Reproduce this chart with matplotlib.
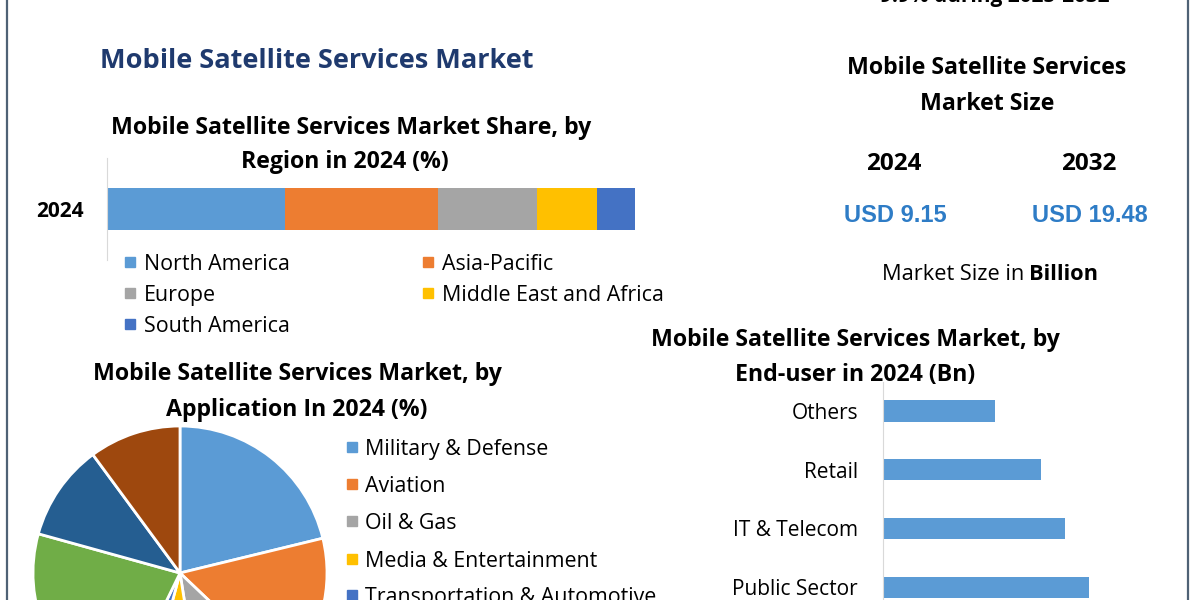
import matplotlib
matplotlib.use("Agg")
import matplotlib.pyplot as plt
from matplotlib.patches import Rectangle
from matplotlib.lines import Line2D

plt.rcParams["font.family"] = ["Open Sans", "DejaVu Sans"]

# ---- data ----
regions = ["North America", "Asia-Pacific", "Europe", "Middle East and Africa", "South America"]
region_share = [33.7, 29.0, 18.7, 11.4, 7.2]
region_colors = ["#5B9BD5", "#ED7D31", "#A5A5A5", "#FFC000", "#4472C4"]

applications = ["Military & Defense", "Aviation", "Oil & Gas", "Media & Entertainment",
                "Transportation & Automotive", "Maritime", "Emergency Services", "Others"]
application_share = [21.2, 15.9, 10.4, 6.7, 3.0, 22.1, 10.6, 10.1]
application_colors = ["#5B9BD5", "#ED7D31", "#A5A5A5", "#FFC000", "#4472C4",
                      "#70AD47", "#255E91", "#9E480E"]

end_users = ["Others", "Retail", "IT & Telecom", "Public Sector"]
end_user_value = [1.12, 1.58, 1.82, 2.06]

size_years = ["2024", "2032"]
size_values = ["USD 9.15", "USD 19.48"]

W, H = 1200, 600
NAVY = "#1F3A6E"
USD_BLUE = "#2E7CC6"
HEAD = 16.7   # section headings
REG = 15.4    # legend text


def fx(x):
    return x / W


def fy(y):
    return 1 - y / H


def text(x, y, s, size=REG, bold=False, ha="center", color="black", family=None):
    # small downward nudge: va="center" counts the descenders
    fig.text(fx(x), fy(y + 2.5), s, fontsize=size, fontweight="bold" if bold else "normal",
             ha=ha, va="center", color=color, family=family)


fig = plt.figure(figsize=(12, 6), dpi=100)
fig.patch.set_facecolor("white")

# frame lines left and right
for x in (7, 1188):
    fig.add_artist(Line2D([fx(x), fx(x)], [0, 1], color="#4F6275", lw=1.6))

# caption cut off at the very top, as in the original
fig.text(fx(995), fy(2), "9.9% during 2025-2032", fontsize=15, fontweight="bold",
         ha="center", va="baseline")

text(317, 58, "Mobile Satellite Services Market", size=19.5, bold=True, color=NAVY)

# ---- stacked bar: region share ----
text(351, 125, "Mobile Satellite Services Market Share, by", size=HEAD, bold=True)
text(345, 160, "Region in 2024 (%)", size=HEAD, bold=True)

ax1 = fig.add_axes([fx(107), fy(260), fx(635) - fx(107), (260 - 158) / H])
left = 0
for name, val, col in zip(regions, region_share, region_colors):
    ax1.barh([0], [val], left=left, height=0.42, color=col)
    left += val
ax1.set_xlim(0, sum(region_share))
ax1.set_ylim(-0.5, 0.5)
ax1.set_yticks([0])
ax1.set_yticklabels(["2024"], fontweight="bold", fontsize=15)
ax1.tick_params(axis="y", length=0, pad=17)
ax1.set_xticks([])
for s in ("top", "right", "bottom"):
    ax1.spines[s].set_visible(False)
ax1.spines["left"].set_color("#D9D9D9")
ax1.patch.set_alpha(0)

leg_pos = [(130, 262), (428, 262), (130, 293), (428, 293), (130, 324)]
for (x, y), name, col in zip(leg_pos, regions, region_colors):
    fig.add_artist(Rectangle((fx(x - 5), fy(y + 5)), 10 / W, 10 / H, color=col,
                             transform=fig.transFigure))
    text(x + 14, y, name, ha="left")

# ---- market size block ----
text(987, 66, "Mobile Satellite Services", size=HEAD, bold=True)
text(987, 101, "Market Size", size=HEAD, bold=True)
for x, yr, val in zip((894, 1089), size_years, size_values):
    text(x, 162, yr, size=17.5, bold=True)
    text(x + 1, 213, val, size=17, bold=True, color=USD_BLUE, family="Liberation Sans")
text(1024, 272, "Market Size in", size=15.7, ha="right")
text(1029, 272, "Billion", size=15.7, bold=True, ha="left")

# ---- pie: application ----
text(297, 372, "Mobile Satellite Services Market, by", size=HEAD, bold=True)
text(297, 407, "Application In 2024 (%)", size=HEAD, bold=True)

cx, cy, r = 180, 573, 147
ax2 = fig.add_axes([fx(cx - r), fy(cy + r), 2 * r / W, 2 * r / H])
ax2.pie(application_share, colors=application_colors, startangle=90, counterclock=False,
        wedgeprops=dict(edgecolor="white", linewidth=2))
ax2.set_xlim(-1, 1)
ax2.set_ylim(-1, 1)

pie_leg_y = [447, 484, 521, 559, 595]
for y, name, col in zip(pie_leg_y, applications, application_colors):
    fig.add_artist(Rectangle((fx(347), fy(y + 5)), 10 / W, 10 / H, color=col,
                             transform=fig.transFigure))
    text(365, y, name, ha="left")

# ---- horizontal bars: end-user ----
text(855, 338, "Mobile Satellite Services Market, by", size=HEAD, bold=True)
text(855, 372, "End-user in 2024 (Bn)", size=HEAD, bold=True)

step = 58.7
top = 411 - step / 2
ax3 = fig.add_axes([fx(883), fy(top + 4 * step), 300 / W, 4 * step / H])
ax3.barh(range(len(end_users)), end_user_value, height=0.36, color="#5B9BD5")
ax3.set_ylim(len(end_users) - 0.5, -0.5)
ax3.set_xlim(0, 3)
ax3.set_yticks(range(len(end_users)))
ax3.set_yticklabels(end_users, fontsize=15)
ax3.tick_params(axis="y", length=0, pad=18)
ax3.set_xticks([])
for s in ("top", "right", "bottom"):
    ax3.spines[s].set_visible(False)
ax3.spines["left"].set_color("#D9D9D9")
ax3.patch.set_alpha(0)

fig.savefig("out.png", dpi=100)
